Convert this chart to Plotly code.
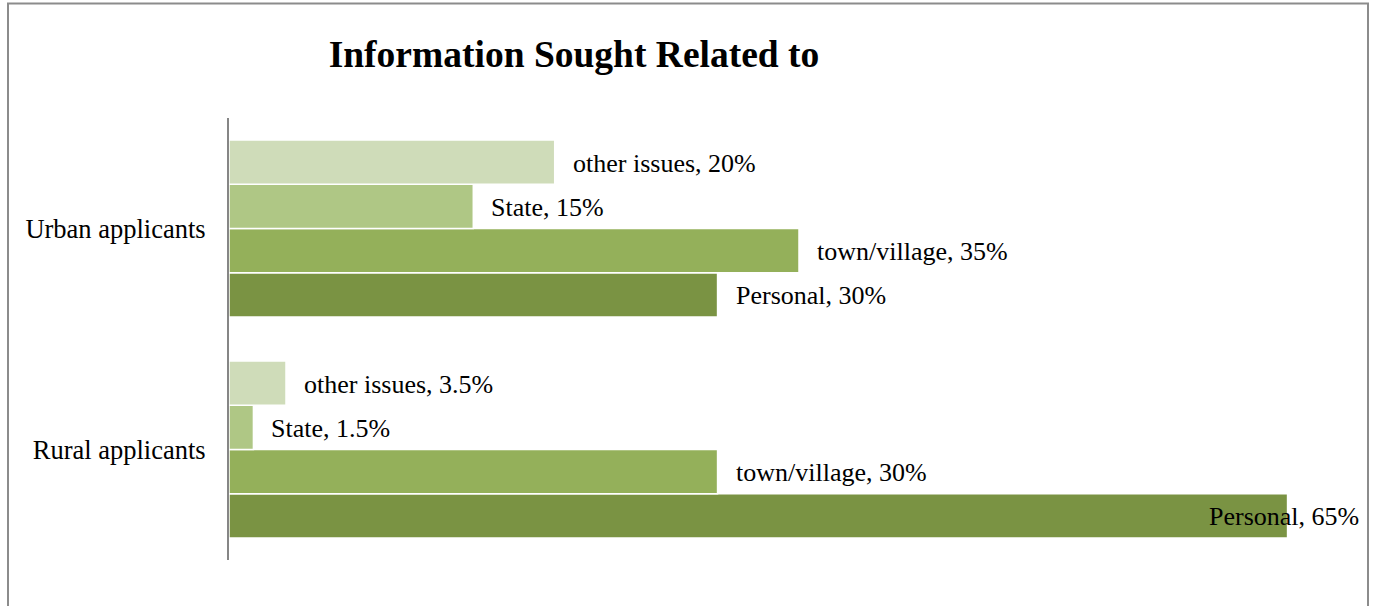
import plotly.graph_objects as go

categories = ["Rural applicants", "Urban applicants"]
series_names = ["Personal", "town/village", "State", "other issues"]
personal = [65, 30]
town_village = [30, 35]
state = [1.5, 15]
other_issues = [3.5, 20]
value_labels = {
    "Personal": ["65%", "30%"],
    "town/village": ["30%", "35%"],
    "State": ["1.5%", "15%"],
    "other issues": ["3.5%", "20%"],
}
colors = ["#7A9343", "#94B05A", "#AFC785", "#CFDCB9"]
series_values = [personal, town_village, state, other_issues]

W, H = 1377, 606
L, R, T, B = 229, 8, 118, 46
plot_w = W - L - R
plot_h = H - T - B
x_max = 70
bargap = 0.2

fig = go.Figure()
for name, vals, col in zip(series_names, series_values, colors):
    fig.add_trace(go.Bar(
        y=categories, x=vals, name=name, orientation="h",
        marker=dict(color=col, line=dict(color="white", width=1.5)),
        hoverinfo="skip",
    ))

serif = "Liberation Serif, Times New Roman, serif"
cat_px = plot_h / len(categories)
bar_px = cat_px * (1 - bargap) / len(series_names)
font = dict(family=serif, size=26, color="black")
annotations = []
for k, (name, vals) in enumerate(zip(series_names, series_values)):
    for i, cat in enumerate(categories):
        v = vals[i]
        xshift = 16
        if v >= 60:
            xshift = -81
        annotations.append(dict(
            x=v, y=cat, xref="x", yref="y",
            text=f"{name}, {value_labels[name][i]}",
            showarrow=False, xanchor="left", yanchor="middle",
            xshift=xshift, yshift=(k - 1.5) * bar_px - 1,
            font=font,
        ))

fig.update_layout(
    width=W, height=H,
    margin=dict(l=L, r=R, t=T, b=B),
    paper_bgcolor="white", plot_bgcolor="white",
    barmode="group", bargap=bargap, bargroupgap=0,
    showlegend=False,
    title=dict(text="<b>Information Sought Related to</b>",
               x=574 / W, xanchor="center", xref="container",
               y=1 - 54 / H, yanchor="middle", yref="container",
               font=dict(family=serif, size=37.5, color="black")),
    xaxis=dict(range=[0, x_max], visible=False, showgrid=False, zeroline=False),
    yaxis=dict(showline=True, linecolor="#868686", linewidth=2, showgrid=False,
               ticks="", ticklabelstandoff=16,
               tickfont=dict(family=serif, size=26.5, color="black")),
    annotations=annotations,
    shapes=[dict(type="rect", xref="paper", yref="paper",
                 x0=(8 - L) / plot_w, x1=(1368 - L) / plot_w,
                 y0=(H - B - 640) / plot_h, y1=(H - B - 3.5) / plot_h,
                 line=dict(color="#8C8C8C", width=2), layer="below")],
)

fig.write_html("out.html", config={"displayModeBar": False},
               post_script="document.body.style.margin='0';document.body.style.overflow='hidden';")
